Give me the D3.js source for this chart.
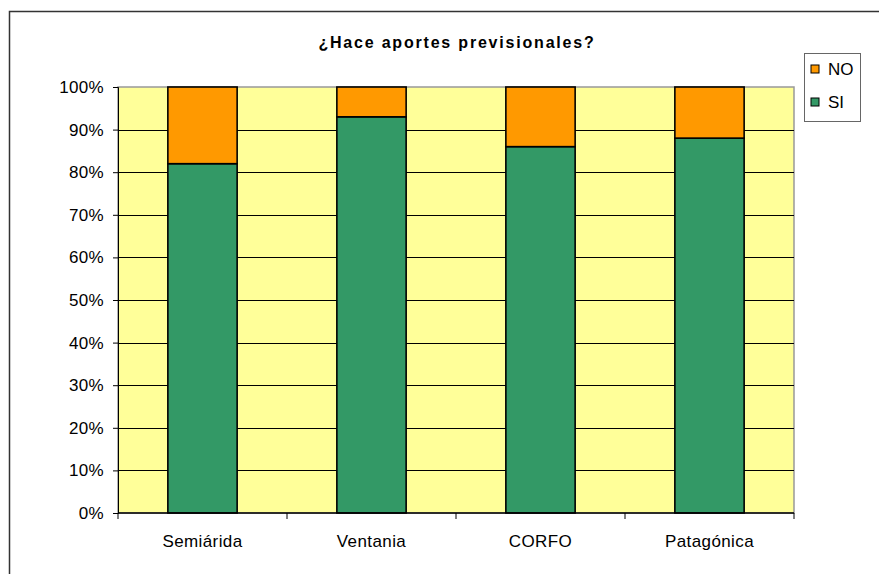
<!DOCTYPE html>
<html>
<head>
<meta charset="utf-8">
<script src="https://cdn.jsdelivr.net/npm/d3@7"></script>
<style>
  body { margin: 0; background: #fff; }
  svg { display: block; font-family: "Liberation Sans", Arial, sans-serif; }
</style>
</head>
<body>
<div id="graph"></div>
<script>
var width = 879, height = 574;

var categories = ["Semiárida", "Ventania", "CORFO", "Patagónica"];
var si = [82, 93, 86, 88];
var no = [18, 7, 14, 12];
var series = ["SI", "NO"];
var yTicks = [0, 10, 20, 30, 40, 50, 60, 70, 80, 90, 100];

var color = d3.scaleOrdinal().domain(series).range(["#339966", "#FF9900"]);

var plot = {left: 118, right: 794, top: 87, bottom: 513};

var rows = categories.map((c, i) => ({cat: c, SI: si[i], NO: no[i]}));
var stacked = d3.stack().keys(series)(rows);

var x = d3.scaleBand()
    .domain(categories)
    .range([plot.left, plot.right])
    .paddingInner(0.59)
    .paddingOuter(0.295);

var xSlot = d3.scaleBand().domain(categories).range([plot.left, plot.right]);

var y = d3.scaleLinear().domain([0, 100]).range([plot.bottom, plot.top]);

const svg = d3.select("#graph").append("svg")
    .attr("width", width)
    .attr("height", height);

// outer chart frame (runs past the picture edge)
svg.append("rect")
    .attr("x", 9.5).attr("y", 11.5)
    .attr("width", 900).attr("height", 600)
    .attr("fill", "none")
    .attr("stroke", "#333")
    .attr("stroke-width", 1.5);

// plot background
svg.append("rect")
    .attr("x", plot.left).attr("y", plot.top)
    .attr("width", plot.right - plot.left)
    .attr("height", plot.bottom - plot.top)
    .attr("fill", "#FFFF99")
    .attr("stroke", "#999")
    .attr("stroke-width", 1.5);

// gridlines
svg.append("g")
    .selectAll("line")
    .data(yTicks.filter(d => d > 0 && d < 100))
    .join("line")
      .attr("x1", plot.left).attr("x2", plot.right)
      .attr("y1", d => Math.round(y(d)) + 0.5)
      .attr("y2", d => Math.round(y(d)) + 0.5)
      .attr("stroke", "#000")
      .attr("stroke-width", 1);

// bars
svg.append("g")
  .selectAll("g")
  .data(stacked)
  .join("g")
    .attr("fill", d => color(d.key))
  .selectAll("rect")
  .data(d => d)
  .join("rect")
    .attr("x", d => x(d.data.cat))
    .attr("y", d => y(d[1]))
    .attr("width", x.bandwidth())
    .attr("height", d => y(d[0]) - y(d[1]))
    .attr("stroke", "#000")
    .attr("stroke-width", 1.6);

// y axis
const yAxis = svg.append("g")
    .attr("transform", `translate(${plot.left},0)`)
    .call(d3.axisLeft(y).tickValues(yTicks).tickFormat(d => d + "%").tickSize(5).tickPadding(9));
yAxis.select(".domain").attr("stroke", "#000");
yAxis.selectAll("text").attr("font-size", 17).attr("fill", "#000")
    .attr("letter-spacing", 0.3)
    .attr("font-family", "Liberation Sans, Arial, sans-serif");

// x axis: ticks at category boundaries
const xAxis = svg.append("g")
    .attr("transform", `translate(0,${plot.bottom})`);
xAxis.append("line")
    .attr("x1", plot.left).attr("x2", plot.right)
    .attr("stroke", "#000").attr("stroke-width", 1.5);
xAxis.selectAll("line.tick")
    .data(categories.concat([null]))
    .join("line")
      .attr("class", "tick")
      .attr("x1", (d, i) => plot.left + i * xSlot.bandwidth())
      .attr("x2", (d, i) => plot.left + i * xSlot.bandwidth())
      .attr("y1", 0).attr("y2", 6)
      .attr("stroke", "#000");
xAxis.selectAll("text")
    .data(categories)
    .join("text")
      .attr("x", d => xSlot(d) + xSlot.bandwidth() / 2)
      .attr("y", 34)
      .attr("text-anchor", "middle")
      .attr("font-size", 17)
      .attr("letter-spacing", 0.4)
      .text(d => d);

// title
svg.append("text")
    .attr("x", 457).attr("y", 48)
    .attr("text-anchor", "middle")
    .attr("font-size", 16)
    .attr("font-weight", "bold")
    .attr("letter-spacing", 1.8)
    .text("¿Hace aportes previsionales?");

// legend
const legend = svg.append("g");
legend.append("rect")
    .attr("x", 804.5).attr("y", 53.5)
    .attr("width", 56).attr("height", 68)
    .attr("fill", "#fff")
    .attr("stroke", "#666");
const items = legend.selectAll("g")
    .data(series.slice().reverse())
    .join("g")
      .attr("transform", (d, i) => `translate(811,${65 + i * 33})`);
items.append("rect")
    .attr("width", 8).attr("height", 8)
    .attr("fill", d => color(d))
    .attr("stroke", "#000");
items.append("text")
    .attr("x", 17).attr("y", 10)
    .attr("font-size", 17)
    .text(d => d);
</script>
</body>
</html>
